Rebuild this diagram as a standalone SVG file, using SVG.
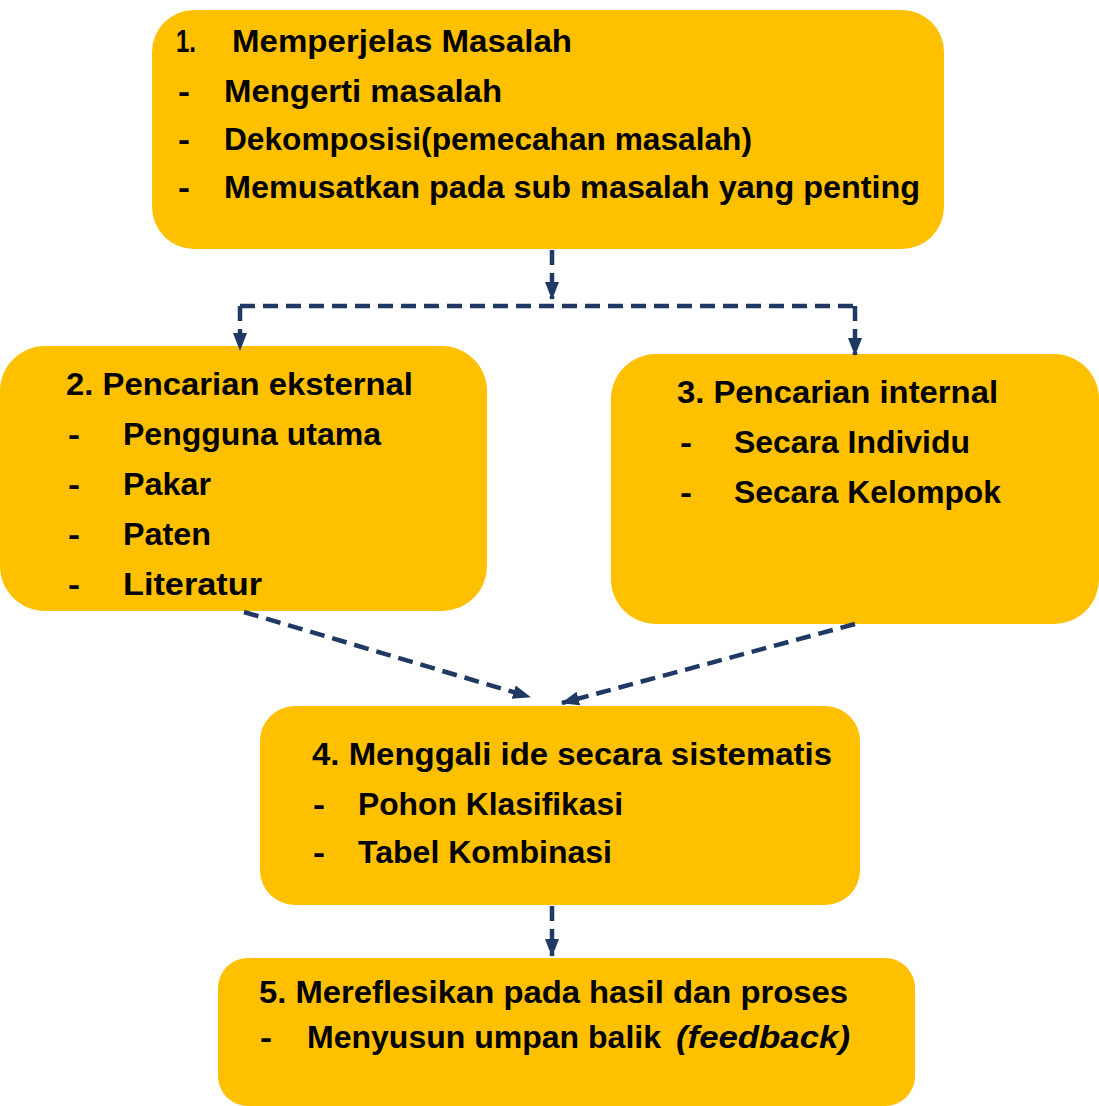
<svg xmlns="http://www.w3.org/2000/svg" width="1099" height="1106" viewBox="0 0 1099 1106">
<defs>
<style>
.box{fill:#FFC000;}
.t{font-family:"Liberation Sans","DejaVu Sans",sans-serif;font-weight:bold;font-size:32px;fill:#000;}
.it{font-style:italic;}
.c{fill:none;stroke:#1F3864;stroke-width:4.5;stroke-dasharray:15 8;}
</style>
<marker id="ah" markerUnits="userSpaceOnUse" markerWidth="18" markerHeight="18" viewBox="0 0 18 18" refX="17" refY="9" orient="auto">
<path d="M0,2 L18,9 L0,16 Z" fill="#1F3864"/>
</marker>
</defs>
<rect width="1099" height="1106" fill="#fff"/>
<g id="node1">
<rect class="box" x="152" y="10" width="792" height="239" rx="42"/>
<text class="t" x="176" y="52" textLength="20" lengthAdjust="spacingAndGlyphs">1.</text>
<text class="t" x="232" y="52" textLength="340" lengthAdjust="spacingAndGlyphs">Memperjelas Masalah</text>
<text class="t" x="178" y="102" textLength="12" lengthAdjust="spacingAndGlyphs">-</text>
<text class="t" x="224" y="102" textLength="278" lengthAdjust="spacingAndGlyphs">Mengerti masalah</text>
<text class="t" x="178" y="150" textLength="12" lengthAdjust="spacingAndGlyphs">-</text>
<text class="t" x="224" y="150" textLength="528" lengthAdjust="spacingAndGlyphs">Dekomposisi(pemecahan masalah)</text>
<text class="t" x="178" y="198" textLength="12" lengthAdjust="spacingAndGlyphs">-</text>
<text class="t" x="224" y="198" textLength="696" lengthAdjust="spacingAndGlyphs">Memusatkan pada sub masalah yang penting</text>
</g>
<g id="node2">
<rect class="box" x="0" y="346" width="487" height="265" rx="45"/>
<text class="t" x="66" y="395" textLength="347" lengthAdjust="spacingAndGlyphs">2. Pencarian eksternal</text>
<text class="t" x="68" y="445" textLength="12" lengthAdjust="spacingAndGlyphs">-</text>
<text class="t" x="123" y="445" textLength="258" lengthAdjust="spacingAndGlyphs">Pengguna utama</text>
<text class="t" x="68" y="495" textLength="12" lengthAdjust="spacingAndGlyphs">-</text>
<text class="t" x="123" y="495" textLength="88" lengthAdjust="spacingAndGlyphs">Pakar</text>
<text class="t" x="68" y="545" textLength="12" lengthAdjust="spacingAndGlyphs">-</text>
<text class="t" x="123" y="545" textLength="88" lengthAdjust="spacingAndGlyphs">Paten</text>
<text class="t" x="68" y="595" textLength="12" lengthAdjust="spacingAndGlyphs">-</text>
<text class="t" x="123" y="595" textLength="139" lengthAdjust="spacingAndGlyphs">Literatur</text>
</g>
<g id="node3">
<rect class="box" x="611" y="354" width="488" height="270" rx="45"/>
<text class="t" x="677" y="403" textLength="321" lengthAdjust="spacingAndGlyphs">3. Pencarian internal</text>
<text class="t" x="680" y="453" textLength="12" lengthAdjust="spacingAndGlyphs">-</text>
<text class="t" x="734" y="453" textLength="236" lengthAdjust="spacingAndGlyphs">Secara Individu</text>
<text class="t" x="680" y="503" textLength="12" lengthAdjust="spacingAndGlyphs">-</text>
<text class="t" x="734" y="503" textLength="267" lengthAdjust="spacingAndGlyphs">Secara Kelompok</text>
</g>
<g id="node4">
<rect class="box" x="260" y="706" width="600" height="199" rx="35"/>
<text class="t" x="312" y="765" textLength="520" lengthAdjust="spacingAndGlyphs">4. Menggali ide secara sistematis</text>
<text class="t" x="313" y="815" textLength="12" lengthAdjust="spacingAndGlyphs">-</text>
<text class="t" x="358" y="815" textLength="265" lengthAdjust="spacingAndGlyphs">Pohon Klasifikasi</text>
<text class="t" x="313" y="863" textLength="12" lengthAdjust="spacingAndGlyphs">-</text>
<text class="t" x="358" y="863" textLength="254" lengthAdjust="spacingAndGlyphs">Tabel Kombinasi</text>
</g>
<g id="node5">
<rect class="box" x="218" y="958" width="697" height="148" rx="30"/>
<text class="t" x="259" y="1003" textLength="589" lengthAdjust="spacingAndGlyphs">5. Mereflesikan pada hasil dan proses</text>
<text class="t" x="260" y="1048" textLength="12" lengthAdjust="spacingAndGlyphs">-</text>
<text class="t" x="307" y="1048" textLength="354" lengthAdjust="spacingAndGlyphs">Menyusun umpan balik</text>
<text class="t it" x="676" y="1048" textLength="174" lengthAdjust="spacingAndGlyphs">(feedback)</text>
</g>
<g id="connectors">
<path class="c" d="M552,250 L552,299" marker-end="url(#ah)"/>
<path class="c" d="M240,306 L855,306"/>
<path class="c" d="M240,306 L240,350" marker-end="url(#ah)"/>
<path class="c" d="M855,306 L855,355" marker-end="url(#ah)"/>
<path class="c" d="M244,612 L530,697" marker-end="url(#ah)"/>
<path class="c" d="M855,624 L562,703" marker-end="url(#ah)"/>
<path class="c" d="M552,906 L552,956" marker-end="url(#ah)"/>
</g>
</svg>
